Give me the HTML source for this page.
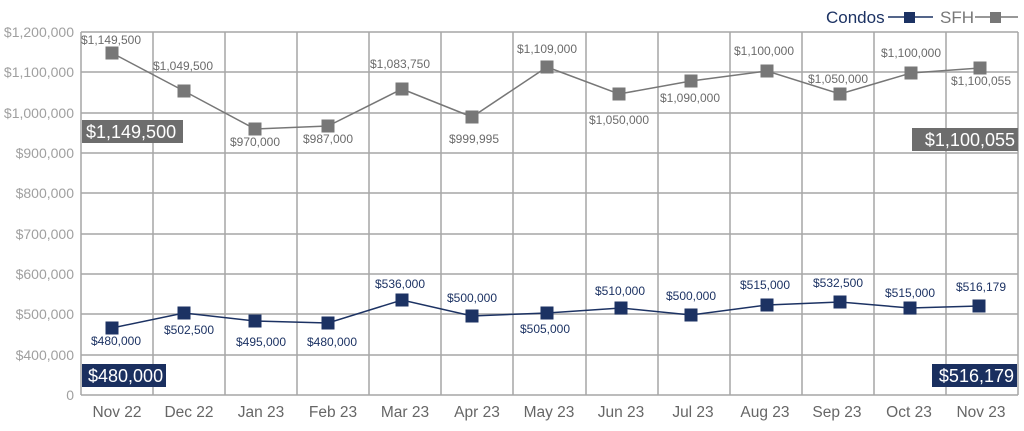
<!DOCTYPE html>
<html><head><meta charset="utf-8"><style>
html,body{margin:0;padding:0;background:#fff;}
svg{display:block;font-family:"Liberation Sans",Arial,sans-serif;}
</style></head><body>
<svg width="1024" height="431" viewBox="0 0 1024 431" xmlns="http://www.w3.org/2000/svg">
<g stroke="#a6a6a6" stroke-width="1.5" fill="none">
<line x1="81" y1="32" x2="1018" y2="32"/><line x1="81" y1="72" x2="1018" y2="72"/><line x1="81" y1="113" x2="1018" y2="113"/><line x1="81" y1="153" x2="1018" y2="153"/><line x1="81" y1="193" x2="1018" y2="193"/><line x1="81" y1="234" x2="1018" y2="234"/><line x1="81" y1="274" x2="1018" y2="274"/><line x1="81" y1="314" x2="1018" y2="314"/><line x1="81" y1="355" x2="1018" y2="355"/><line x1="81" y1="395" x2="1018" y2="395"/>
<line x1="81" y1="32" x2="81" y2="395"/><line x1="153" y1="32" x2="153" y2="395"/><line x1="225" y1="32" x2="225" y2="395"/><line x1="297" y1="32" x2="297" y2="395"/><line x1="369" y1="32" x2="369" y2="395"/><line x1="441" y1="32" x2="441" y2="395"/><line x1="513" y1="32" x2="513" y2="395"/><line x1="586" y1="32" x2="586" y2="395"/><line x1="658" y1="32" x2="658" y2="395"/><line x1="730" y1="32" x2="730" y2="395"/><line x1="802" y1="32" x2="802" y2="395"/><line x1="874" y1="32" x2="874" y2="395"/><line x1="946" y1="32" x2="946" y2="395"/><line x1="1018" y1="32" x2="1018" y2="395"/>
</g>
<g fill="#a0a0a0" font-size="14" text-anchor="end">
<text x="74" y="37">$1,200,000</text><text x="74" y="77">$1,100,000</text><text x="74" y="118">$1,000,000</text><text x="74" y="158">$900,000</text><text x="74" y="198">$800,000</text><text x="74" y="239">$700,000</text><text x="74" y="279">$600,000</text><text x="74" y="319">$500,000</text><text x="74" y="360">$400,000</text><text x="74" y="400">0</text>
</g>
<g fill="#666" font-size="15.5" text-anchor="middle">
<text x="117" y="417">Nov 22</text><text x="189" y="417">Dec 22</text><text x="261" y="417">Jan 23</text><text x="333" y="417">Feb 23</text><text x="405" y="417">Mar 23</text><text x="477" y="417">Apr 23</text><text x="549" y="417">May 23</text><text x="621" y="417">Jun 23</text><text x="693" y="417">Jul 23</text><text x="765" y="417">Aug 23</text><text x="837" y="417">Sep 23</text><text x="909" y="417">Oct 23</text><text x="981" y="417">Nov 23</text>
</g>
<polyline fill="none" stroke="#777" stroke-width="1.5" points="112,53 184,91 255,129 328,126 402,89 472,117 547,67 619,94 691,81 767,71 840,94 911,73 980,68"/>
<g fill="#777">
<rect x="105.5" y="46.5" width="13" height="13"/><rect x="177.5" y="84.5" width="13" height="13"/><rect x="248.5" y="122.5" width="13" height="13"/><rect x="321.5" y="119.5" width="13" height="13"/><rect x="395.5" y="82.5" width="13" height="13"/><rect x="465.5" y="110.5" width="13" height="13"/><rect x="540.5" y="60.5" width="13" height="13"/><rect x="612.5" y="87.5" width="13" height="13"/><rect x="684.5" y="74.5" width="13" height="13"/><rect x="760.5" y="64.5" width="13" height="13"/><rect x="833.5" y="87.5" width="13" height="13"/><rect x="904.5" y="66.5" width="13" height="13"/><rect x="973.5" y="61.5" width="13" height="13"/>
</g>
<polyline fill="none" stroke="#1c3263" stroke-width="1.5" points="112,328 184,313 255,321 328,323 402,300 472,316 547,313 621,308 691,315 767,305 840,302 910,308 979,306"/>
<g fill="#1c3263">
<rect x="105.5" y="321.5" width="13" height="13"/><rect x="177.5" y="306.5" width="13" height="13"/><rect x="248.5" y="314.5" width="13" height="13"/><rect x="321.5" y="316.5" width="13" height="13"/><rect x="395.5" y="293.5" width="13" height="13"/><rect x="465.5" y="309.5" width="13" height="13"/><rect x="540.5" y="306.5" width="13" height="13"/><rect x="614.5" y="301.5" width="13" height="13"/><rect x="684.5" y="308.5" width="13" height="13"/><rect x="760.5" y="298.5" width="13" height="13"/><rect x="833.5" y="295.5" width="13" height="13"/><rect x="903.5" y="301.5" width="13" height="13"/><rect x="972.5" y="299.5" width="13" height="13"/>
</g>
<g fill="#6b6b6b" font-size="12" text-anchor="middle">
<text x="111" y="44">$1,149,500</text><text x="183" y="70">$1,049,500</text><text x="255" y="146">$970,000</text><text x="328" y="143">$987,000</text><text x="400" y="68">$1,083,750</text><text x="474" y="143">$999,995</text><text x="547" y="53">$1,109,000</text><text x="619" y="124">$1,050,000</text><text x="690" y="102">$1,090,000</text><text x="764" y="55">$1,100,000</text><text x="838" y="83">$1,050,000</text><text x="911" y="57">$1,100,000</text><text x="981" y="85">$1,100,055</text>
</g>
<g fill="#1c3263" font-size="12" text-anchor="middle">
<text x="116" y="345">$480,000</text><text x="189" y="334">$502,500</text><text x="261" y="346">$495,000</text><text x="332" y="346">$480,000</text><text x="400" y="288">$536,000</text><text x="472" y="302">$500,000</text><text x="545" y="333">$505,000</text><text x="620" y="295">$510,000</text><text x="691" y="300">$500,000</text><text x="765" y="289">$515,000</text><text x="838" y="287">$532,500</text><text x="910" y="297">$515,000</text><text x="981" y="291">$516,179</text>
</g>
<rect x="82" y="120" width="101" height="23" fill="#6d6d6d"/>
<text x="86" y="138" fill="#fff" font-size="18">$1,149,500</text>
<rect x="912" y="128" width="106" height="23" fill="#6d6d6d"/>
<text x="1015" y="146" fill="#fff" font-size="18" text-anchor="end">$1,100,055</text>
<rect x="82" y="364" width="84" height="23" fill="#1a2f5f"/>
<text x="88" y="382" fill="#fff" font-size="18">$480,000</text>
<rect x="932" y="364" width="85" height="23" fill="#1a2f5f"/>
<text x="1014" y="382" fill="#fff" font-size="18" text-anchor="end">$516,179</text>
<text x="826" y="23" fill="#1c3263" font-size="17">Condos</text>
<line x1="888" y1="17" x2="933" y2="17" stroke="#1c3263" stroke-width="1.5"/>
<rect x="904" y="12" width="11" height="11" fill="#1c3263"/>
<text x="940" y="23" fill="#777" font-size="17">SFH</text>
<line x1="975" y1="17" x2="1018" y2="17" stroke="#777" stroke-width="1.5"/>
<rect x="990" y="12" width="11" height="11" fill="#777"/>
</svg>
</body></html>
